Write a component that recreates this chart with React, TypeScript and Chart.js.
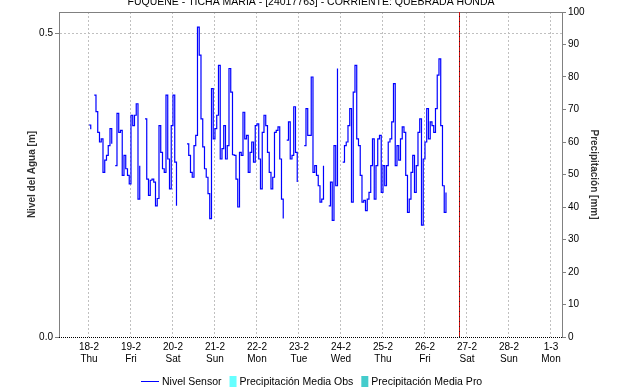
import React, { useEffect, useRef } from "react";
import { Chart, registerables } from "chart.js";

Chart.register(...registerables);

// ---------- data ----------
const chartTitle = "FUQUENE - TICHA MARIA - [24017763] - CORRIENTE: QUEBRADA HONDA";
const dayLabels = ["18-2", "19-2", "20-2", "21-2", "22-2", "23-2", "24-2", "25-2", "26-2", "27-2", "28-2", "1-3"];
const weekdayLabels = ["Thu", "Fri", "Sat", "Sun", "Mon", "Tue", "Wed", "Thu", "Fri", "Sat", "Sun", "Mon"];
const levelTicks = [0, 0.5];
const axisStartHour = -17.14; // hours relative to 18-2 00:00
const axisEndHour = 270.3;
const nowHour = 211.4; // vertical marker (26-2 evening)

// hourly "Nivel Sensor" readings [m], one array per day starting 00:00
const level18 = [0.349, 0.342, null, 0.398, 0.371, 0.337, 0.321, 0.326, 0.271, 0.291, 0.299, 0.315, 0.343, 0.318, null, 0.282, 0.368, 0.337, 0.340, 0.266, 0.299, 0.277, 0.266, 0.252];
const level19 = [0.365, 0.348, 0.365, 0.384, 0.227, 0.282, null, null, 0.359, 0.260, 0.233, 0.258, 0.260, 0.255, 0.216, 0.228, 0.348, 0.304, 0.277, 0.271, 0.398, 0.293, 0.244, 0.348];
const level20 = [0.398, 0.288, 0.216, null, null, null, null, null, 0.318, 0.299, 0.271, 0.263, 0.315, 0.332, 0.510, 0.464, 0.359, 0.313, 0.277, 0.263, 0.236, 0.195, 0.409, 0.326];
const level21 = [0.343, 0.365, 0.447, 0.293, 0.310, 0.348, 0.293, 0.315, 0.442, 0.403, 0.300, 0.299, 0.260, 0.214, 0.304, 0.299, 0.370, 0.326, 0.332, 0.271, 0.304, 0.321, 0.288, 0.348];
const level22 = [0.351, 0.293, 0.244, 0.337, 0.365, 0.348, 0.304, 0.271, 0.244, 0.263, 0.337, 0.340, 0.346, 0.293, 0.227, 0.195, null, 0.324, 0.354, 0.293, 0.299, 0.379, 0.304, 0.255];
const level23 = [null, null, null, 0.315, 0.376, 0.332, 0.332, 0.428, 0.271, 0.282, 0.266, 0.249, 0.222, 0.227, 0.282, null, null, 0.216, 0.255, 0.192, 0.315, 0.249, 0.442, null];
const level24 = [null, 0.288, 0.315, 0.321, 0.348, 0.376, 0.222, 0.403, 0.447, 0.326, 0.315, 0.266, 0.222, 0.225, 0.208, 0.227, 0.238, 0.282, 0.326, 0.227, 0.282, 0.326, 0.332, 0.238];
const level25 = [0.282, 0.249, 0.282, 0.321, 0.326, 0.354, 0.417, 0.282, 0.315, 0.291, 0.326, 0.346, 0.337, 0.266, 0.205, 0.227, 0.271, 0.299, 0.238, 0.282, 0.337, 0.359, 0.184, 0.293];
const level26 = [0.321, 0.376, 0.326, 0.354, 0.348, 0.337, 0.376, 0.431, 0.458, 0.348, 0.249, 0.205, 0.238];

// precipitation series (no values in this period)
const precipObs: { x: number; y: number }[] = [];
const precipPro: { x: number; y: number }[] = [];

const FONT = "'Liberation Sans', Arial, sans-serif";

const overlayPlugin = {
  id: "overlay",
  afterDraw(chart: any) {
    const { ctx, chartArea, scales } = chart;
    const { left, right, top, bottom } = chartArea;
    ctx.save();
    // top border
    ctx.strokeStyle = "#808080";
    ctx.lineWidth = 1;
    ctx.beginPath();
    ctx.moveTo(left, top + 0.5);
    ctx.lineTo(right, top + 0.5);
    ctx.stroke();
    // dotted bottom axis
    ctx.strokeStyle = "#000";
    ctx.setLineDash([1, 1]);
    ctx.beginPath();
    ctx.moveTo(left, bottom + 0.5);
    ctx.lineTo(right, bottom + 0.5);
    ctx.stroke();
    // now marker
    const nx = Math.round(scales.x.getPixelForValue(nowHour)) + 0.5;
    ctx.setLineDash([]);
    ctx.strokeStyle = "#222";
    ctx.beginPath();
    ctx.moveTo(nx, top);
    ctx.lineTo(nx, bottom);
    ctx.stroke();
    ctx.setLineDash([4, 1]);
    ctx.strokeStyle = "#d01010";
    ctx.beginPath();
    ctx.moveTo(nx, top);
    ctx.lineTo(nx, bottom);
    ctx.stroke();
    ctx.setLineDash([]);
    // title (clipped at top)
    ctx.fillStyle = "#000";
    ctx.font = `10.5px ${FONT}`;
    ctx.textAlign = "center";
    ctx.textBaseline = "alphabetic";
    ctx.fillText(chartTitle, 311, 4.5);
    // legend
    const ds = chart.data.datasets;
    ctx.font = `10.5px ${FONT}`;
    ctx.textBaseline = "middle";
    ctx.textAlign = "left";
    const y = 381;
    const items = ds.map((d: any, i: number) => ({
      label: d.label,
      isLine: i === 0,
      color: i === 0 ? "#0000FF" : d.backgroundColor,
      sw: i === 0 ? 18 : 7,
      tw: ctx.measureText(d.label).width,
    }));
    const gapSym = 3;
    const gapItem = 8;
    let total = 0;
    items.forEach((it: any, i: number) => {
      total += it.sw + gapSym + it.tw + (i < items.length - 1 ? gapItem : 0);
    });
    let x = Math.round(312 - total / 2);
    items.forEach((it: any) => {
      if (it.isLine) {
        ctx.fillStyle = it.color;
        ctx.fillRect(x, y, it.sw, 1);
      } else {
        ctx.fillStyle = it.color;
        ctx.fillRect(x, y - 5, it.sw, 11);
      }
      x += it.sw + gapSym;
      ctx.fillStyle = "#000";
      ctx.fillText(it.label, x, y + 1);
      x += it.tw + gapItem;
    });
    ctx.restore();
  },
};

export default function App() {
  const canvasRef = useRef<HTMLCanvasElement | null>(null);

  useEffect(() => {
    const levelValues = [...level18, ...level19, ...level20, ...level21, ...level22, ...level23, ...level24, ...level25, ...level26];
    const levelPoints = levelValues.map((v, i) => ({ x: i, y: v }));
    const chart = new Chart(canvasRef.current as HTMLCanvasElement, {
      type: "line",
      data: {
        datasets: [
          {
            label: "Nivel Sensor",
            data: levelPoints as any,
            borderColor: "#0000FF",
            backgroundColor: "#0000FF",
            borderWidth: 1.2,
            pointRadius: 0,
            stepped: true,
            spanGaps: false,
            yAxisID: "y",
          },
          {
            type: "bar",
            label: "Precipitación Media Obs",
            data: precipObs as any,
            backgroundColor: "#66FFFF",
            borderColor: "#66FFFF",
            yAxisID: "y1",
          } as any,
          {
            type: "bar",
            label: "Precipitación Media Pro",
            data: precipPro as any,
            backgroundColor: "#44CCCC",
            borderColor: "#44CCCC",
            yAxisID: "y1",
          } as any,
        ],
      },
      options: {
        responsive: false,
        animation: false,
        layout: { padding: { top: 12, left: 0, right: 0, bottom: 0 } },
        plugins: { legend: { display: false }, tooltip: { enabled: false }, title: { display: false } },
        scales: {
          x: {
            type: "linear",
            min: axisStartHour,
            max: axisEndHour,
            offset: false,
            afterBuildTicks: (s: any) => {
              s.ticks = dayLabels.map((_, i) => ({ value: i * 24 }));
            },
            afterFit: (s: any) => {
              s.height = 54;
            },
            ticks: {
              autoSkip: false,
              maxRotation: 0,
              padding: 4,
              color: "#000",
              font: { family: FONT, size: 10 },
              callback: (v: any) => {
                const d = Math.round(Number(v) / 24);
                return [dayLabels[d], weekdayLabels[d]];
              },
            },
            grid: { color: "#c0c0c0", drawTicks: false, lineWidth: 1, offset: false },
            border: { display: false, dash: [2, 2] },
          },
          y: {
            type: "linear",
            position: "left",
            min: 0,
            max: 0.535,
            afterBuildTicks: (s: any) => {
              s.ticks = levelTicks.map((v) => ({ value: v }));
            },
            afterFit: (s: any) => {
              s.width = 59;
            },
            ticks: {
              padding: 2,
              color: "#000",
              font: { family: FONT, size: 10 },
              callback: (v: any) => Number(v).toFixed(1),
            },
            grid: {
              color: (c: any) => (c.tick && c.tick.value === 0 ? "rgba(0,0,0,0)" : "#c0c0c0"),
              tickColor: "#808080",
              tickLength: 4,
              drawTicks: true,
            },
            border: { display: true, color: "#808080", dash: [2, 2] },
            title: {
              display: true,
              text: "Nivel del Agua [m]",
              color: "#333",
              font: { family: FONT, size: 10, weight: "bold" },
              padding: { top: 26, bottom: 0 },
            },
          },
          y1: {
            type: "linear",
            position: "right",
            min: 0,
            max: 100,
            afterFit: (s: any) => {
              s.width = 56;
            },
            ticks: {
              stepSize: 10,
              padding: 2,
              color: "#000",
              font: { family: FONT, size: 10 },
            },
            grid: { drawOnChartArea: false, tickColor: "#808080", tickLength: 4, drawTicks: true },
            border: { display: true, color: "#808080" },
            title: {
              display: true,
              text: "Precipitación [mm]",
              color: "#333",
              font: { family: FONT, size: 10, weight: "bold" },
              padding: { top: 18, bottom: 0 },
            },
          },
        },
      },
      plugins: [overlayPlugin],
    });
    return () => chart.destroy();
  }, []);

  return (
    <div style={{ position: "fixed", left: 0, top: 0, width: 618, height: 391, background: "#fff" }}>
      <canvas ref={canvasRef} width={618} height={391} style={{ display: "block" }} />
    </div>
  );
}
